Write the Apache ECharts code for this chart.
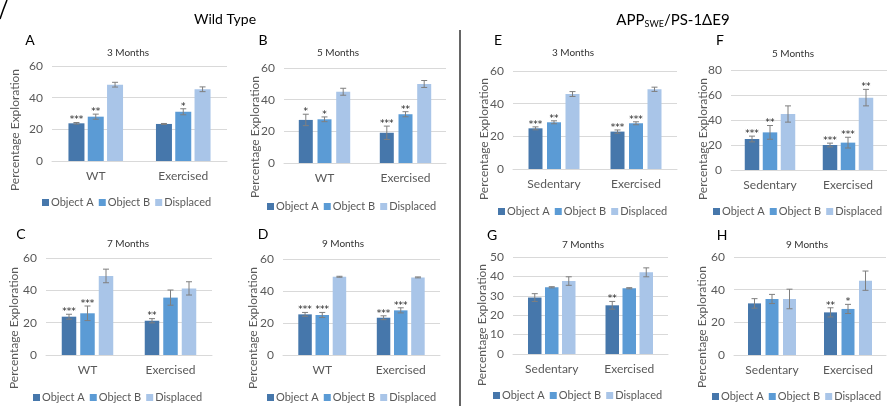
<!DOCTYPE html>
<html><head><meta charset="utf-8">
<script src="https://cdn.jsdelivr.net/npm/echarts@6/dist/echarts.min.js"></script>
<style>html,body{margin:0;padding:0;background:#fff}#c{width:887px;height:406px}</style>
</head><body><div id="c"></div>
<script>
// ---------- data ----------
const seriesNames = ['Object A', 'Object B', 'Displaced'];
const groupsWT = ['WT', 'Exercised'];
const groupsAPP = ['Sedentary', 'Exercised'];

// each array: [Object A, Object B, Displaced], each with [group1, group2]
const A_values = [[23.8, 23.4], [28.0, 31.1], [48.2, 45.3]];
const A_errors = [[0.5, 0.3], [1.6, 1.9], [1.5, 1.5]];
const A_stars  = [['***', ''], ['**', '*'], ['', '']];

const B_values = [[27.2, 19.1], [27.6, 30.8], [45.0, 49.9]];
const B_errors = [[3.6, 4.2], [1.5, 1.6], [2.2, 2.2]];
const B_stars  = [['*', '***'], ['*', '**'], ['', '']];

const C_values = [[23.7, 21.2], [25.8, 35.5], [48.9, 41.2]];
const C_errors = [[1.5, 1.3], [4.5, 4.7], [4.2, 4.1]];
const C_stars  = [['***', '**'], ['***', ''], ['', '']];

const D_values = [[25.4, 23.3], [25.0, 27.9], [48.9, 48.5]];
const D_errors = [[1.2, 1.2], [1.6, 1.6], [0.3, 0.3]];
const D_stars  = [['***', '***'], ['***', '***'], ['', '']];

const E_values = [[24.9, 22.9], [28.6, 28.0], [45.9, 48.8]];
const E_errors = [[0.9, 1.0], [0.9, 0.9], [1.5, 1.3]];
const E_stars  = [['***', '***'], ['**', '***'], ['', '']];

const F_values = [[24.8, 20.0], [30.1, 21.9], [44.8, 57.9]];
const F_errors = [[2.3, 1.5], [5.5, 4.3], [6.5, 6.6]];
const F_stars  = [['***', '***'], ['**', '***'], ['', '**']];

const G_values = [[29.1, 25.1], [34.4, 33.9], [37.6, 42.1]];
const G_errors = [[2.0, 2.0], [0.3, 0.3], [2.2, 2.3]];
const G_stars  = [['', '**'], ['', ''], ['', '']];

const H_values = [[31.6, 26.1], [34.3, 28.2], [34.3, 45.5]];
const H_errors = [[2.9, 2.8], [2.8, 2.8], [6.0, 5.9]];
const H_stars  = [['', '**'], ['', '*'], ['', '']];

// ---------- layout ----------
const FONT = "'Lato',sans-serif";
const COLORS = ['#4677ab', '#5b9bd5', '#a9c5e8'];
const TXT = '#595959';

const panels = [
  {L:'A', t:'3 Months', cats:groupsWT, v:A_values, e:A_errors, s:A_stars, max:60, int:20,
   grid:{left:52, top:66, width:175, height:95}, bw:16, sp:19.3, title:[128,54], letter:[30,41], yname:[15,130], legend:[42,204]},
  {L:'B', t:'5 Months', cats:groupsWT, v:B_values, e:B_errors, s:B_stars, max:60, int:20,
   grid:{left:284, top:68, width:162, height:95}, bw:14, sp:18.7, title:[338,54], letter:[263,41], yname:[255,137], legend:[267,208]},
  {L:'C', t:'7 Months', cats:groupsWT, v:C_values, e:C_errors, s:C_stars, max:60, int:20,
   grid:{left:46, top:258, width:166, height:97}, bw:14.5, sp:18.5, title:[128,245], letter:[21,235], yname:[14,328], legend:[33,399]},
  {L:'D', t:'9 Months', cats:groupsWT, v:D_values, e:D_errors, s:D_stars, max:60, int:20,
   grid:{left:283, top:259, width:157, height:96}, bw:13.5, sp:17.2, title:[343,245], letter:[263,235], yname:[253,328], legend:[267,399]},
  {L:'E', t:'3 Months', cats:groupsAPP, v:E_values, e:E_errors, s:E_stars, max:60, int:20,
   grid:{left:513, top:71, width:164, height:98}, bw:14, sp:18.5, title:[573,54], letter:[498,41], yname:[484,139], legend:[498,213]},
  {L:'F', t:'5 Months', cats:groupsAPP, v:F_values, e:F_errors, s:F_stars, max:80, int:20,
   grid:{left:731, top:70, width:157, height:100}, bw:14.5, sp:18, title:[793,55], letter:[720,41], yname:[703,139], legend:[713,213]},
  {L:'G', t:'7 Months', cats:groupsAPP, v:G_values, e:G_errors, s:G_stars, max:50, int:10,
   grid:{left:513, top:257, width:155, height:97}, bw:13.5, sp:17, title:[583,246], letter:[492,236], yname:[482,325], legend:[493,397]},
  {L:'H', t:'9 Months', cats:groupsAPP, v:H_values, e:H_errors, s:H_stars, max:60, int:20,
   grid:{left:734, top:257, width:152, height:98}, bw:13, sp:17.5, title:[807,246], letter:[722,236], yname:[702,327], legend:[712,398]}
];

const option = {
  animation: false,
  backgroundColor: '#fff',
  textStyle: {fontFamily: FONT},
  grid: [], xAxis: [], yAxis: [], series: [], title: [], legend: [], graphic: []
};

option.title.push({text:'Wild Type', left:225, top:12, padding:0, textAlign:'center',
  textStyle:{fontFamily:FONT, fontSize:14, fontWeight:'normal', color:'#000'}});
option.title.push({text:'APP{sub|SWE}/PS-1ΔE9', left:673, top:12, padding:0, textAlign:'center',
  textStyle:{fontFamily:FONT, fontSize:15, fontWeight:'normal', color:'#000',
    rich:{sub:{fontFamily:FONT, fontSize:9, color:'#000', verticalAlign:'bottom', padding:[8,0,0,0]}}}});

panels.forEach((p, i) => {
  option.grid.push(Object.assign({containLabel:false}, p.grid));
  option.xAxis.push({type:'category', gridIndex:i, data:p.cats,
    axisLine:{lineStyle:{color:'#d9d9d9'}}, axisTick:{show:false},
    axisLabel:{color:TXT, fontSize:12, margin:9, fontFamily:FONT}});
  option.yAxis.push({type:'value', gridIndex:i, min:0, max:p.max, interval:p.int,
    axisLine:{show:false}, axisTick:{show:false},
    axisLabel:{color:TXT, fontSize:12, margin:9, fontFamily:FONT},
    splitLine:{lineStyle:{color:'#d9d9d9'}}});
  const gap = ((p.sp - p.bw) / p.bw * 100).toFixed(1) + '%';
  for (let s = 0; s < 3; s++) {
    option.series.push({type:'bar', name:seriesNames[s], xAxisIndex:i, yAxisIndex:i,
      data:p.v[s], barWidth:p.bw, barGap:gap, itemStyle:{color:COLORS[s]}, silent:true});
  }
  for (let s = 0; s < 3; s++) {
    const stars = p.s[s], off = (s - 1) * p.sp;
    option.series.push({type:'custom', xAxisIndex:i, yAxisIndex:i, z:5, silent:true,
      data:p.v[s].map((v, k) => [k, v, p.e[s][k]]),
      renderItem:(params, api) => {
        const k = api.value(0), v = api.value(1), e = api.value(2);
        const hi = api.coord([k, v + e]), lo = api.coord([k, v - e]);
        const x = hi[0] + off, c = 3;
        const ls = {stroke:'#7f7f7f', lineWidth:1};
        const ch = [
          {type:'line', shape:{x1:x, y1:hi[1], x2:x, y2:lo[1]}, style:ls},
          {type:'line', shape:{x1:x-c, y1:hi[1], x2:x+c, y2:hi[1]}, style:ls},
          {type:'line', shape:{x1:x-c, y1:lo[1], x2:x+c, y2:lo[1]}, style:ls}
        ];
        const st = stars[params.dataIndex];
        if (st) ch.push({type:'text', style:{text:st, x:x, y:hi[1]+2, align:'center', verticalAlign:'bottom',
          fontSize:9, fontFamily:'DejaVu Sans', fill:'#222'}});
        return {type:'group', children:ch};
      }});
  }
  option.title.push({text:p.t, left:p.title[0], top:p.title[1]-6, padding:0, textAlign:'center',
    textStyle:{fontFamily:FONT, fontSize:10, fontWeight:'normal', color:'#333'}});
  option.title.push({text:p.L, left:p.letter[0], top:p.letter[1]-8, padding:0, textAlign:'center',
    textStyle:{fontFamily:FONT, fontSize:14, fontWeight:'normal', color:'#000'}});
  option.legend.push({data:seriesNames, left:p.legend[0], top:p.legend[1]-7, padding:0, width:200, icon:'rect',
    itemWidth:7, itemHeight:7, itemGap:5, selectedMode:false,
    textStyle:{color:TXT, fontSize:11, fontFamily:FONT, padding:[0,0,0,-3]}});
  option.graphic.push({type:'text', x:p.yname[0], y:p.yname[1], rotation:Math.PI/2,
    style:{text:'Percentage Exploration', align:'center', verticalAlign:'middle',
      fontSize:12, fontFamily:FONT, fill:TXT}});
});

option.graphic.push({type:'line', shape:{x1:460, y1:30, x2:460, y2:406}, style:{stroke:'#333', lineWidth:1.5}});
option.graphic.push({type:'bezierCurve', shape:{x1:0, y1:19, x2:7, y2:0, cpx1:3, cpy1:10}, style:{stroke:'#000', lineWidth:1.5, fill:null}});

const chart = echarts.init(document.getElementById('c'), null, {renderer:'canvas'});
chart.setOption(option);
</script></body></html>
